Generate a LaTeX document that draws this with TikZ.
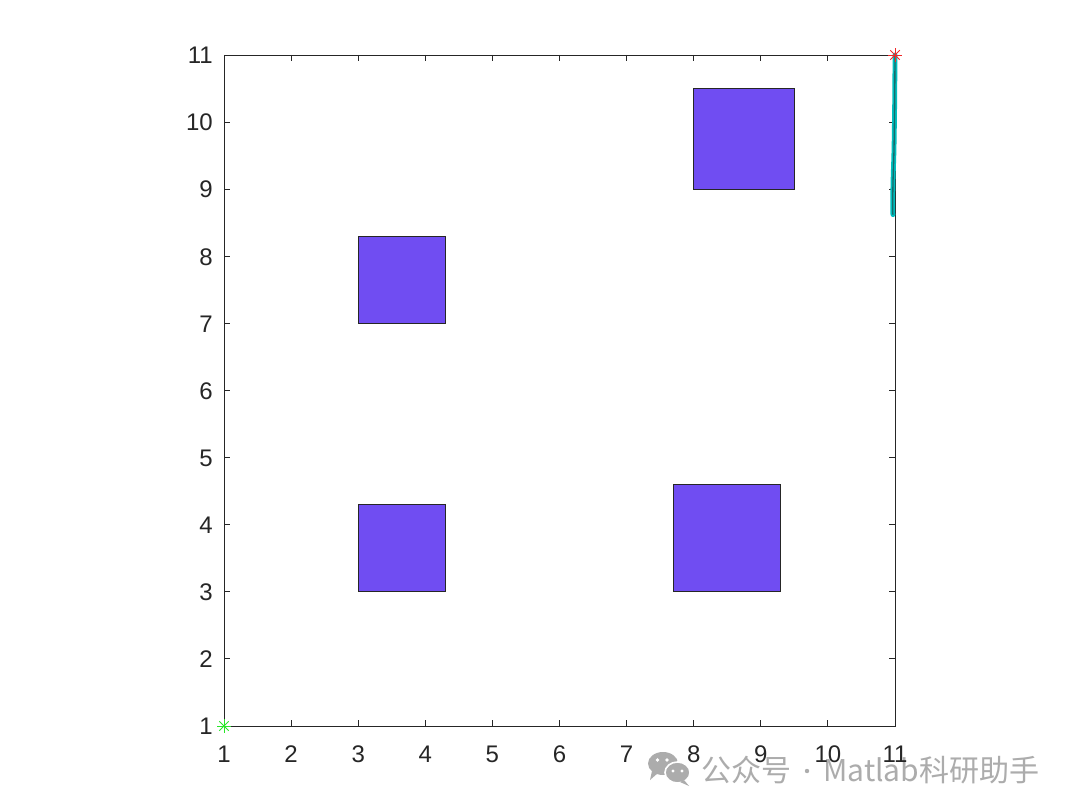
\documentclass[tikz,border=0pt]{standalone}
\usepackage{fontspec}
\setmainfont{Liberation Sans}
\newfontfamily\cjk{Noto Sans CJK SC}
\definecolor{axcol}{RGB}{38,38,38}
\definecolor{obst}{RGB}{112,77,242}
\definecolor{traj}{RGB}{0,190,190}
\definecolor{trajdark}{RGB}{25,105,105}
\definecolor{wm}{RGB}{172,172,172}
\definecolor{startc}{RGB}{40,230,40}
\definecolor{goalc}{RGB}{240,40,40}
\tikzset{
  obstacle/.style={fill=obst, draw=black!85, line width=0.7pt},
  axisline/.style={draw=axcol, line width=0.7pt},
  ticklabel/.style={text=axcol, inner sep=0pt, font=\fontsize{18}{21}\selectfont},
  wmtext/.style={text=wm, inner sep=0pt, font=\cjk\fontsize{22.5}{25}\selectfont},
  starmark/.style={line width=0.65pt}
}
\begin{document}
\begin{tikzpicture}[x=0.75pt,y=-0.75pt]
\useasboundingbox (0,0) rectangle (1080,812);
\fill[white] (0,0) rectangle (1080,812);
% watermark
\fill[wm] (663,763.5) ellipse [x radius=15, y radius=11.5];
\fill[wm] (652,771) -- (650,780) -- (658,773) -- cycle;
\filldraw[fill=wm, draw=white, line width=1.2pt] (677.5,772.5) ellipse [x radius=12.5, y radius=10.5];
\fill[wm] (684,780) -- (689,786) -- (680,782) -- cycle;
\fill[white] (657.5,760) circle (1.8) (667,760) circle (1.8) (673,771) circle (1.6) (682,771) circle (1.6);
\node[wmtext, anchor=base west] (wm1) at (701,781) {公众号};
\fill[wm] (807,771) circle (2.2);
\node[wmtext, anchor=base west] (wm3) at (823,781) {Matlab科研助手};
\begin{scope}[shift={(224,726)}, x=50.325pt, y=50.325pt, shift={(-1,-1)}]
  % obstacles
  \path[obstacle] (3,3) rectangle (4.3,4.3);
  \path[obstacle] (3,7) rectangle (4.3,8.3);
  \path[obstacle] (7.7,3) rectangle (9.3,4.6);
  \path[obstacle] (8,9) rectangle (9.5,10.5);
  % axes box and ticks
  \path[axisline] (1,1) rectangle (11,11);
  \foreach \i in {1,...,11} {
    \path[axisline] (\i,1) -- ++(0,0.09);
    \path[axisline] (\i,11) -- ++(0,-0.09);
    \path[axisline] (1,\i) -- ++(0.09,0);
    \path[axisline] (11,\i) -- ++(-0.09,0);
    \node[ticklabel, anchor=base] (xl\i) at (\i,1) [yshift=-27pt] {\i};
    \node[ticklabel, anchor=base east] (yl\i) at (1,\i) [xshift=-8.25pt, yshift=-6.6pt] {\i};
  }
  % trajectory
  \draw[traj, line width=3.6pt, line cap=round] plot[smooth] coordinates {(11,11) (10.995,10.3) (10.985,9.6) (10.97,9.1) (10.965,8.7) (10.97,8.62)};
  \draw[trajdark, line width=1pt] plot[smooth] coordinates {(11,11) (10.995,10.3) (10.985,9.6) (10.97,9.1) (10.965,8.7) (10.97,8.62)};
  % start and goal markers
  \coordinate (start) at (1,1);
  \coordinate (goal) at (11,11);
  \foreach \a in {0,45,90,135} {
    \draw[startc, starmark] (start) ++(\a:0.1) -- ++(\a+180:0.2);
    \draw[goalc, starmark] (goal) ++(\a:0.1) -- ++(\a+180:0.2);
  }
\end{scope}
\end{tikzpicture}
\end{document}
